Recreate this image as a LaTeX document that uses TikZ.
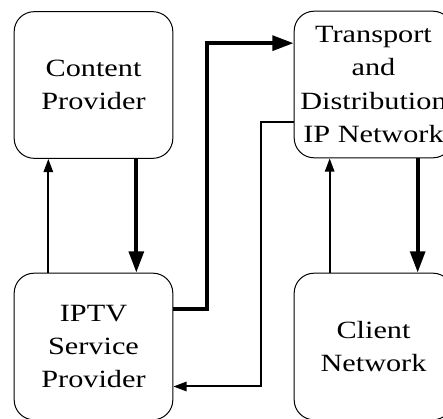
\documentclass[tikz,border=0pt]{standalone}
\usepackage{graphicx}
\usepackage{fontspec}
\setmainfont{Liberation Serif}
\usetikzlibrary{arrows.meta}
\newcommand{\wtxt}[1]{\scalebox{1.22}[1]{#1}}
\begin{document}
\begin{tikzpicture}[x=0.75pt, y=0.75pt,
  box/.style={draw, line width=0.75pt, rounded corners=15pt, minimum width=119pt, minimum height=110pt, inner sep=0pt, align=center, font=\fontsize{18.6}{25}\selectfont},
  flow/.style={line width=1.5pt, -{Triangle[length=10pt,width=7pt]}},
  media/.style={line width=3pt, -{Triangle[length=16pt,width=11pt]}}]
\useasboundingbox (0,0) rectangle (443,418);
\clip (0,0) rectangle (443,418);
\node[box] (cp) at (93.5,333) {\wtxt{Content}\\\wtxt{Provider}};
\node[box] (tdn) at (373.5,333.5) {\wtxt{Transport}\\\wtxt{and}\\\wtxt{Distribution}\\\wtxt{IP Network}};
\node[box] (isp) at (93.5,71.5) {\wtxt{IPTV}\\\wtxt{Service}\\\wtxt{Provider}};
\node[box] (cn) at (373.5,71.5) {\wtxt{Client}\\\wtxt{Network}};
% content provider <-> service provider
\draw[flow] ([xshift=26pt]isp.north west) -- ([xshift=26pt]cp.south west);
\draw[media] ([xshift=92pt]cp.south west) -- ([xshift=92pt]isp.north west);
% transport network <-> client
\draw[flow] ([xshift=27pt]cn.north west) -- ([xshift=27pt]tdn.south west);
\draw[media] ([xshift=93pt]tdn.south west) -- ([xshift=93pt]cn.north west);
% service provider <-> transport network
\draw[media] ([yshift=28pt]isp.east) -- ++(25.5pt,0) |- ([yshift=31pt]tdn.west);
\draw[flow] ([yshift=-28pt]tdn.west) -- ++(-24.75pt,0) |- ([yshift=-30pt]isp.east);
\end{tikzpicture}
\end{document}
